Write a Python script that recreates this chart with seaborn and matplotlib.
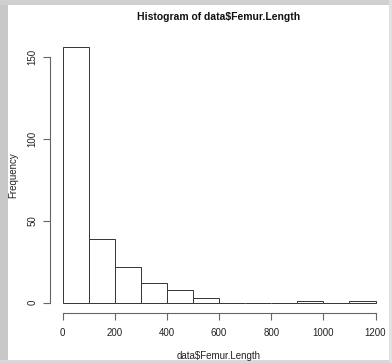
import numpy as np
import pandas as pd
import seaborn as sns
import matplotlib
matplotlib.use("Agg")
import matplotlib.pyplot as plt
from matplotlib.patches import Rectangle

bin_edges = [0, 100, 200, 300, 400, 500, 600, 700, 800, 900, 1000, 1100, 1200]
counts = [156, 39, 22, 12, 8, 3, 0, 0, 0, 1, 0, 1]
x_ticks = [0, 200, 400, 600, 800, 1000, 1200]
y_ticks = [0, 50, 100, 150]
title = "Histogram of data$Femur.Length"
xlabel = "data$Femur.Length"
ylabel = "Frequency"

centers = [(a + b) / 2 for a, b in zip(bin_edges[:-1], bin_edges[1:])]
df = pd.DataFrame({"x": centers, "w": counts})

sns.set_style("white")
plt.rcParams['font.family'] = ['Liberation Sans', 'DejaVu Sans']

fig = plt.figure(figsize=(3.92, 3.63), dpi=100)
fig.patch.set_facecolor("white")
# window-like border/shadow
fig.patches.append(Rectangle((0.0, 0.0), 0.02, 1.0, transform=fig.transFigure,
                             facecolor="#c8c8c8", edgecolor="none", zorder=-1))
fig.patches.append(Rectangle((0.0, 0.985), 1.0, 0.015, transform=fig.transFigure,
                             facecolor="#d0d0d0", edgecolor="none", zorder=-1))
fig.patches.append(Rectangle((0.0, 0.0), 1.0, 0.008, transform=fig.transFigure,
                             facecolor="#d8d8d8", edgecolor="none", zorder=-1))
fig.patches.append(Rectangle((0.992, 0.0), 0.008, 1.0, transform=fig.transFigure,
                             facecolor="#e0e0e0", edgecolor="none", zorder=-1))

ax = fig.add_axes([0.1276, 0.1377, 0.8624, 0.7603])
sns.histplot(data=df, x="x", weights="w", bins=bin_edges, ax=ax,
             color="white", edgecolor="#333333", linewidth=0.7, alpha=1)

ax.set_xlim(-48, 1248)
ax.set_ylim(-6.24, 162.24)
ax.set_xticks(x_ticks)
ax.set_yticks(y_ticks)
ax.set_yticklabels([str(v) for v in y_ticks], rotation=90, va="center")
for s in ["top", "right"]:
    ax.spines[s].set_visible(False)
ax.spines["left"].set_bounds(0, 150)
ax.spines["bottom"].set_bounds(0, 1200)
for s in ["left", "bottom"]:
    ax.spines[s].set_color("#666666")
    ax.spines[s].set_linewidth(0.8)
ax.tick_params(axis="both", which="both", direction="out", length=5,
               width=0.8, color="#666666", labelsize=7, labelcolor="#222222",
               left=True, bottom=True)
ax.tick_params(axis="x", pad=6)
ax.tick_params(axis="y", pad=4)
ax.set_xlabel(xlabel, fontsize=7, color="#222222")
ax.set_ylabel(ylabel, fontsize=7, color="#222222")
ax.xaxis.set_label_coords(0.5, -0.155)
ax.yaxis.set_label_coords(-0.109, 0.5)
ax.xaxis.label.set_va("center")
ax.yaxis.label.set_va("center")
ax.set_title(title, fontsize=7.5, fontweight="bold", color="#111111",
             y=1.072, va="center", pad=0)

fig.savefig("out.png", dpi=100)
